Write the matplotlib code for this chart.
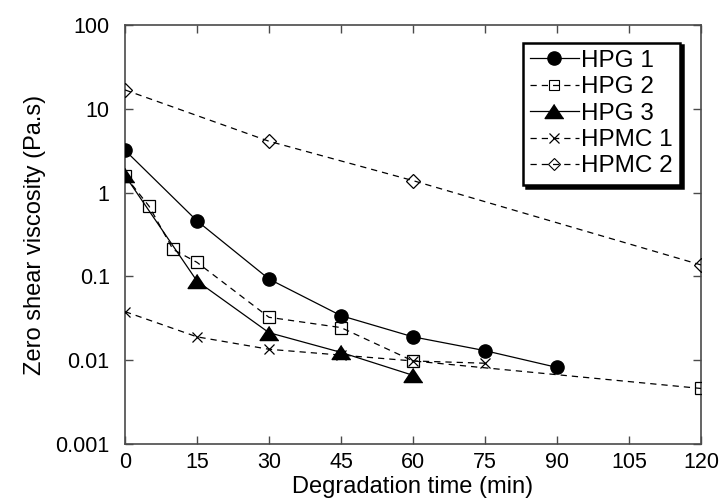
import matplotlib
matplotlib.use("Agg")
import matplotlib.pyplot as plt
from matplotlib.lines import Line2D

plt.rcParams['font.family'] = ['Liberation Sans', 'DejaVu Sans']

# dados
t_hpg1 = [0, 15, 30, 45, 60, 75, 90]
v_hpg1 = [3.2, 0.46, 0.093, 0.034, 0.019, 0.013, 0.0082]

t_hpg2 = [0, 5, 10, 15, 30, 45, 60, 120]
v_hpg2 = [1.58, 0.69, 0.21, 0.147, 0.0325, 0.0245, 0.0098, 0.0046]

t_hpg3 = [0, 15, 30, 45, 60]
v_hpg3 = [1.6, 0.088, 0.0213, 0.0124, 0.0066]

t_hpmc1 = [0, 15, 30, 45, 60, 75]
v_hpmc1 = [0.038, 0.019, 0.0135, 0.0115, 0.0098, 0.0092]

t_hpmc2 = [0, 30, 60, 120]
v_hpmc2 = [16.8, 4.1, 1.39, 0.137]

labels = ['HPG 1', 'HPG 2', 'HPG 3', 'HPMC 1', 'HPMC 2']
xticks = [0, 15, 30, 45, 60, 75, 90, 105, 120]
yticks = [0.001, 0.01, 0.1, 1, 10, 100]
yticklabels = ['0.001', '0.01', '0.1', '1', '10', '100']

fig = plt.figure(figsize=(7.22, 5.04), dpi=100)
ax = fig.add_axes([125/722, 1-444/504, 576/722, 419/504])

tri = [(0, 0.75), (-1, -0.75), (1, -0.75)]
dash = (0, (5, 4))

ax.plot(t_hpg1, v_hpg1, color='k', lw=0.9, marker='o', ms=9.5, mfc='k', mec='k', zorder=3)
ax.plot(t_hpg2, v_hpg2, color='k', lw=0.9, ls=dash, marker='s', ms=9, mfc='none', mec='k', mew=0.9, zorder=3)
ax.plot(t_hpg3, v_hpg3, color='k', lw=0.9, marker=tri, ms=13.5, mfc='k', mec='k', zorder=3)
ax.plot(t_hpmc1, v_hpmc1, color='k', lw=0.9, ls=dash, marker='x', ms=7.5, mec='k', mew=0.9, zorder=3)
ax.plot(t_hpmc2, v_hpmc2, color='k', lw=0.9, ls=dash, marker='D', ms=7.5, mfc='none', mec='k', mew=0.9, zorder=3)

ax.set_yscale('log')
ax.set_xlim(0, 120)
ax.set_ylim(0.001, 100)
ax.set_xticks(xticks)
ax.set_xticklabels([str(x) for x in xticks])
ax.set_yticks(yticks)
ax.set_yticklabels(yticklabels)
ax.minorticks_off()

for s in ax.spines.values():
    s.set_color('#4a4a4a')
    s.set_linewidth(1.2)
ax.tick_params(axis='both', which='major', direction='in', length=6, width=1,
               color='#4a4a4a', labelsize=15.5, top=True, right=True)
ax.tick_params(axis='y', pad=11)
ax.tick_params(axis='x', pad=6)

ax.set_xlabel('Degradation time (min)', fontsize=17, labelpad=2)
ax.set_ylabel('Zero shear viscosity (Pa.s)', fontsize=17, labelpad=7)

# legenda com marcadores proprios
handles = [
    Line2D([], [], color='k', lw=0.9, marker='o', ms=9.5, mfc='k'),
    Line2D([], [], color='k', lw=0.9, ls=dash, marker='s', ms=6.5, mfc='none', mec='k', mew=0.8),
    Line2D([], [], color='k', lw=0.9, marker=tri, ms=13.5, mfc='k'),
    Line2D([], [], color='k', lw=0.9, ls=dash, marker='x', ms=7.5, mew=0.9),
    Line2D([], [], color='k', lw=0.9, ls=dash, marker='D', ms=6, mfc='none', mec='k', mew=0.8),
]
leg = ax.legend(handles, labels, loc='upper right', bbox_to_anchor=(0.9635, 0.958),
                borderaxespad=0, fontsize=17.5, handlelength=2.0, handletextpad=0.1,
                labelspacing=0.18, borderpad=0.3, fancybox=False, framealpha=1,
                shadow={'color': 'k', 'alpha': 1})
leg.get_frame().set_edgecolor('k')
leg.get_frame().set_linewidth(1.8)

fig.savefig('out.png', dpi=100)
